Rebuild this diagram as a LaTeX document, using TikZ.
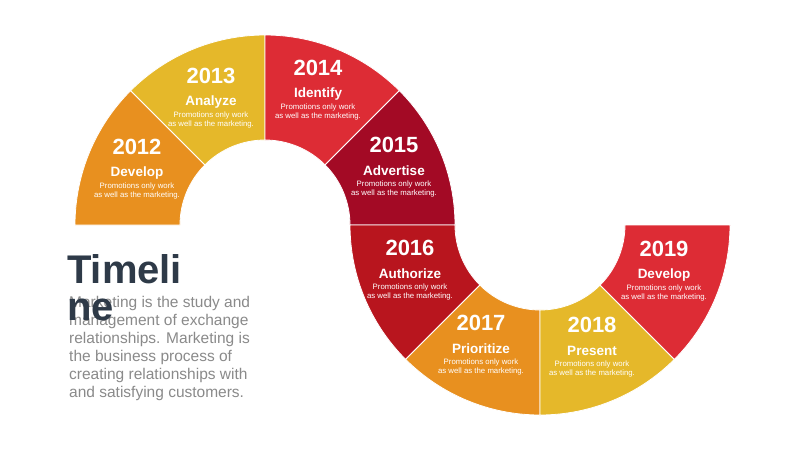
\documentclass[tikz,border=0pt]{standalone}
\usepackage{fontspec}
\setmainfont{Liberation Sans}
\usepackage{xcolor}
\usetikzlibrary{positioning,calc}
\definecolor{segorange}{HTML}{E8901F}
\definecolor{segyellow}{HTML}{E5B82A}
\definecolor{segred}{HTML}{DD2C35}
\definecolor{segdark}{HTML}{A30A25}
\definecolor{segcrimson}{HTML}{B8151E}
\definecolor{titlegray}{HTML}{2E3A48}
\definecolor{bodygray}{HTML}{8A8A8A}

% ring segment: start angle, end angle, colour, centre
\newcommand{\ringseg}[4]{%
  \fill[#3,draw=white,line width=0.8pt] ($(#4)+(#1:190)$) arc[start angle=#1,end angle=#2,radius=190]
    -- ($(#4)+(#2:85)$) arc[start angle=#2,end angle=#1,radius=85] -- cycle;}
% year block: name, position, year, label
\newcommand{\yearblock}[4]{%
  \node[year] (#1) at (#2) {#3};
  \node[head] (#1-h) at ($(#2)+(0,26)$) {#4};
  \node[note] (#1-n) at ($(#2)+(0,44)$) {Promotions only work\\as well as the marketing.};}

\begin{document}
\begin{tikzpicture}[x=1pt,y=-1pt,
  year/.style={text=white,font=\fontsize{22}{22}\selectfont\bfseries,inner sep=0pt},
  head/.style={text=white,font=\fontsize{13.5}{13.5}\selectfont\bfseries,inner sep=0pt},
  note/.style={text=white,font=\fontsize{7.8}{9.3}\selectfont,align=center,inner sep=0pt}]
\useasboundingbox[fill=white] (0,0) rectangle (800,450);
\coordinate (up) at (265,225);
\coordinate (low) at (540,225);
% upper half (y axis flipped: angles negative go up)
\ringseg{-180}{-135}{segorange}{up}
\ringseg{-135}{-90}{segyellow}{up}
\ringseg{-90}{-45}{segred}{up}
\ringseg{-45}{0}{segdark}{up}
% lower half
\ringseg{180}{135}{segcrimson}{low}
\ringseg{135}{90}{segorange}{low}
\ringseg{90}{45}{segyellow}{low}
\ringseg{45}{0}{segred}{low}

\yearblock{y2012}{137,147}{2012}{Develop}
\yearblock{y2013}{211,76}{2013}{Analyze}
\yearblock{y2014}{318,68}{2014}{Identify}
\yearblock{y2015}{394,145}{2015}{Advertise}
\yearblock{y2016}{410,248}{2016}{Authorize}
\yearblock{y2017}{481,323}{2017}{Prioritize}
\yearblock{y2018}{592,325}{2018}{Present}
\yearblock{y2019}{664,249}{2019}{Develop}

\node[anchor=north west,align=left,text=bodygray,inner sep=0pt,
  font=\fontsize{15.5}{18}\selectfont] (body) at (69,296)
  {Marketing is the study and\\management of exchange\\relationships. Marketing is\\the business process of\\creating relationships with\\and satisfying customers.};
\node[anchor=base west,text=titlegray,inner sep=0pt,
  font=\fontsize{40}{40}\selectfont\bfseries] (title) at (67,283) {Timeli};
\node[anchor=base west,text=titlegray,inner sep=0pt,
  font=\fontsize{40}{40}\selectfont\bfseries] (title2) at (67,320) {ne};
\end{tikzpicture}
\end{document}
